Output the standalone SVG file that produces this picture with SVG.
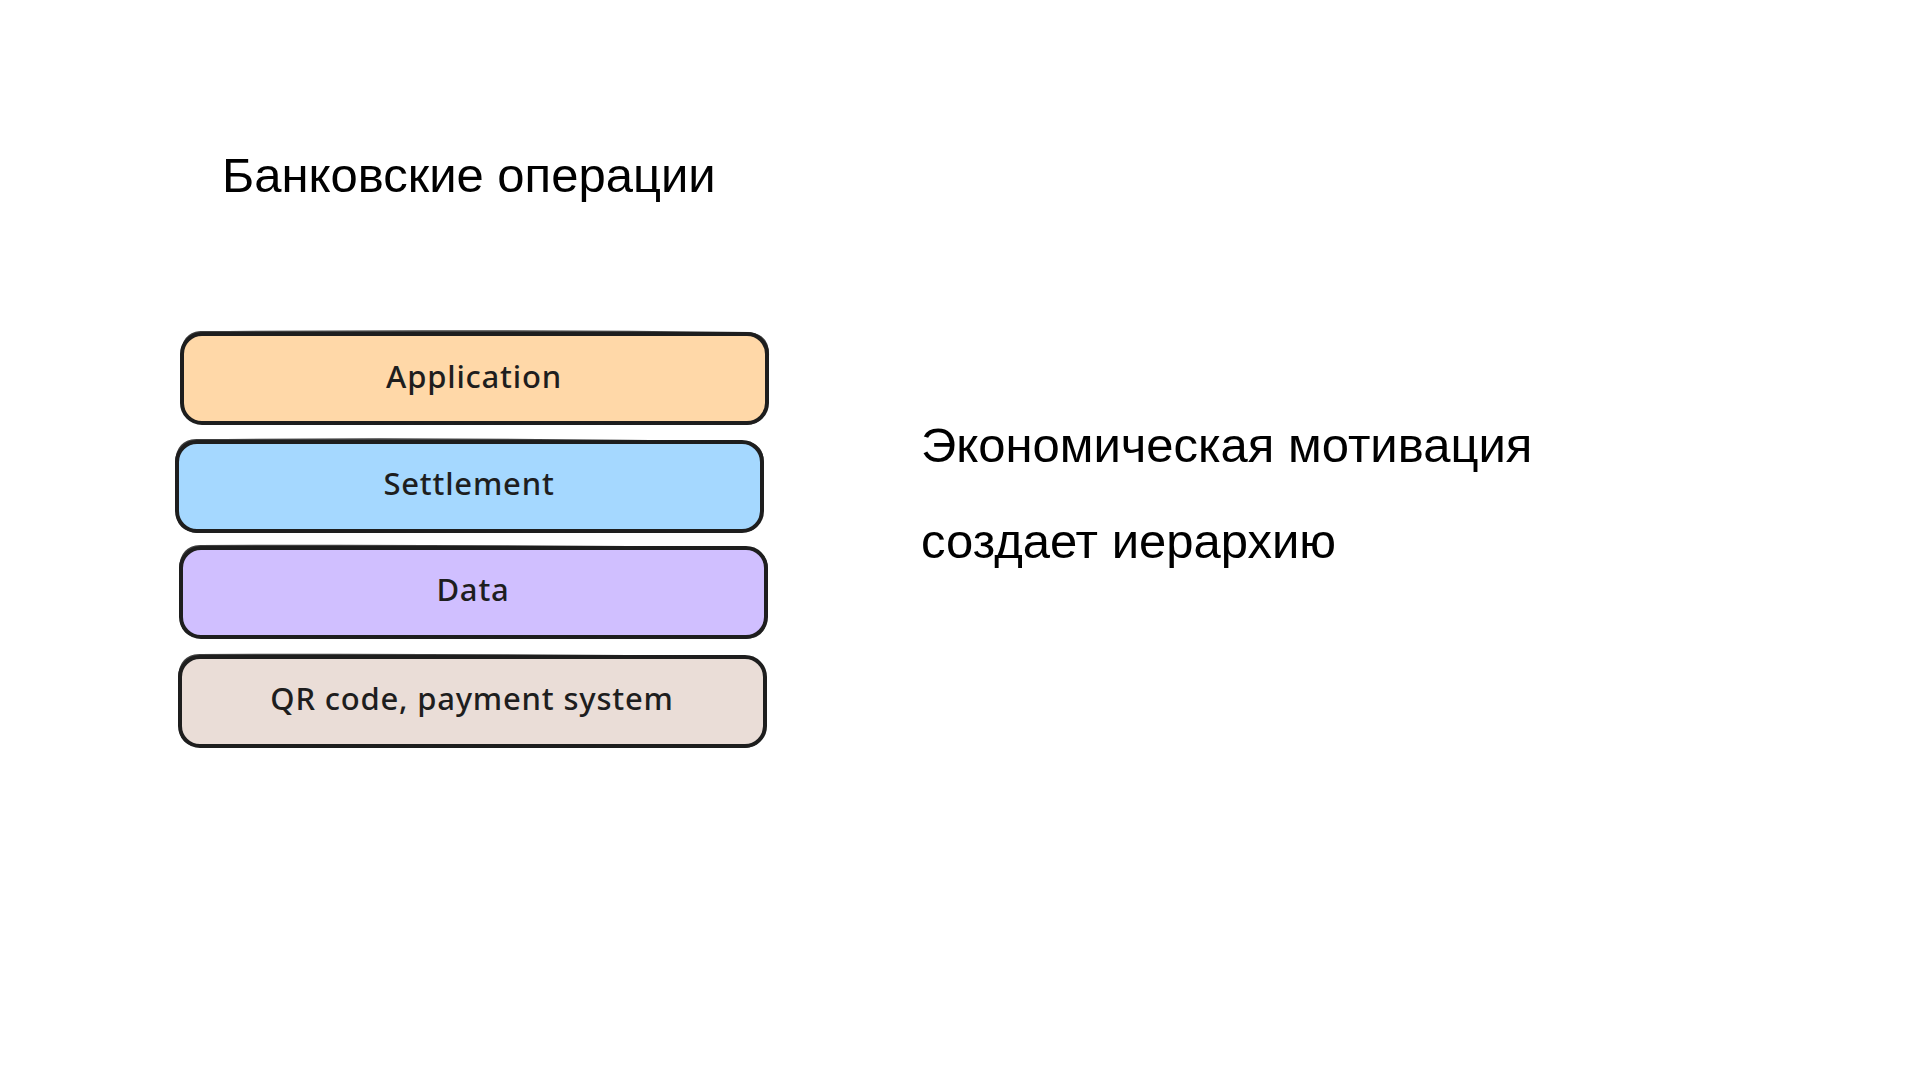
<svg xmlns="http://www.w3.org/2000/svg" width="1920" height="1080" viewBox="0 0 1920 1080">
  <style>
    .h { font-family: "Liberation Sans", Arial, sans-serif; font-size: 49px; fill: #000; }
    .box { stroke: #1e1e1e; stroke-width: 4; stroke-linejoin: round; }
    .sk { fill: none; stroke: #1e1e1e; stroke-width: 2; opacity: 0.85; }
    .lbl { font-family: "Noto Sans", "DejaVu Sans", sans-serif; font-size: 31px; font-weight: 500; fill: #1e1e1e; text-anchor: middle; letter-spacing: 0.8px; }
  </style>
  <rect width="1920" height="1080" fill="#ffffff"/>
  <text class="h" x="222" y="192">Банковские операции</text>
  <g id="application">
    <rect class="box" x="182" y="334" width="585" height="89" rx="20" fill="#ffd8a8"/>
    <path class="sk" d="M200 332 Q480 330 750 333 Q769 336 768 356 L767 402 Q766 423 746 424 L203 423 Q182 421 183 402 L182 355 Q182 334 200 332"/>
    <text class="lbl" x="474" y="388">Application</text>
  </g>
  <g id="settlement">
    <rect class="box" x="177" y="442" width="585" height="89" rx="20" fill="#a5d8ff"/>
    <path class="sk" d="M196 440 Q470 438 744 442 Q763 444 763 463 L761 512 Q760 532 741 531 L197 532 Q176 530 177 510 L176 462 Q177 441 196 440"/>
    <text class="lbl" x="469" y="495">Settlement</text>
  </g>
  <g id="data">
    <rect class="box" x="181" y="548" width="585" height="89" rx="20" fill="#d0bfff"/>
    <path class="sk" d="M200 546 Q480 545 748 548 Q767 551 767 570 L766 618 Q765 638 745 638 L201 637 Q180 636 181 616 L180 568 Q181 547 200 546"/>
    <text class="lbl" x="473" y="601">Data</text>
  </g>
  <g id="qr">
    <rect class="box" x="180" y="657" width="585" height="89" rx="20" fill="#eaddd7"/>
    <path class="sk" d="M199 655 Q478 654 746 657 Q765 659 765 679 L764 727 Q763 747 743 747 L200 746 Q179 745 180 725 L179 677 Q180 656 199 655"/>
    <text class="lbl" x="472" y="710">QR code, payment system</text>
  </g>
  <g id="connectors"></g>
  <text class="h" x="921" y="462">Экономическая мотивация</text>
  <text class="h" x="921" y="558">создает иерархию</text>
</svg>
